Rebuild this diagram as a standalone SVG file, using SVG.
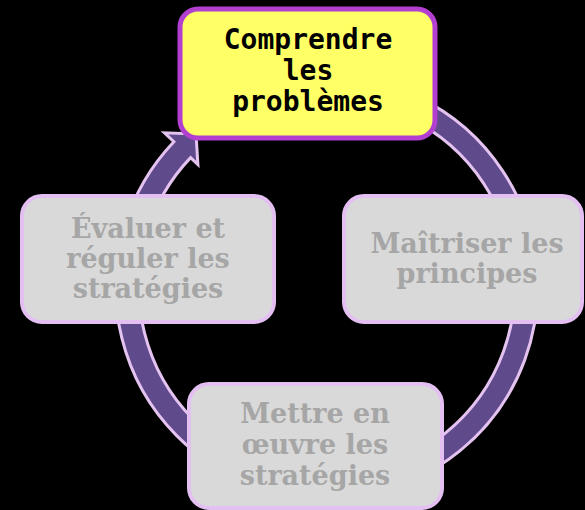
<svg xmlns="http://www.w3.org/2000/svg" width="585" height="510" viewBox="0 0 585 510">
<style>
.bg{fill:#000}
.ring{fill:#5f4a8b;stroke:#e4c3f0;stroke-width:3;stroke-linejoin:miter}
.node{fill:#d9d9d9;stroke:#e4c0f2;stroke-width:4}
.active{fill:#ffff66;stroke:#b23fd0;stroke-width:5}
.t{font-family:"DejaVu Serif","Liberation Serif",serif;font-weight:bold;font-size:27px;fill:#a6a6a6;text-anchor:middle}
.tm{font-family:"DejaVu Sans Mono","Liberation Mono",monospace;font-weight:bold;font-size:28px;fill:#000;text-anchor:middle}
</style>
<rect class="bg" x="0" y="0" width="585" height="510"/>
<g id="connectors">
<path class="ring" d="M215.2,108.1 A211,211 0 1 1 173.9,141.7 L164.5,132.8 L196,134 L197.9,164.5 L190.6,157.6 A188,188 0 1 0 227.4,127.6 Z"/>
</g>
<g id="node-evaluer">
<rect class="node" x="22" y="196" width="252" height="126" rx="20"/>
<text class="t" x="148" y="238">Évaluer et</text>
<text class="t" x="148" y="268">réguler les</text>
<text class="t" x="148" y="298">stratégies</text>
</g>
<g id="node-maitriser">
<rect class="node" x="344" y="196" width="238" height="126" rx="20"/>
<text class="t" x="467" y="253">Maîtriser les</text>
<text class="t" x="467" y="283">principes</text>
</g>
<g id="node-mettre">
<rect class="node" x="189" y="384" width="253" height="124" rx="20"/>
<text class="t" x="315" y="423">Mettre en</text>
<text class="t" x="315" y="454">œuvre les</text>
<text class="t" x="315" y="485">stratégies</text>
</g>
<g id="node-comprendre">
<rect class="active" x="180" y="9" width="255" height="129" rx="18"/>
<text class="tm" x="308" y="49">Comprendre</text>
<text class="tm" x="308" y="80">les</text>
<text class="tm" x="308" y="111">problèmes</text>
</g>
</svg>
